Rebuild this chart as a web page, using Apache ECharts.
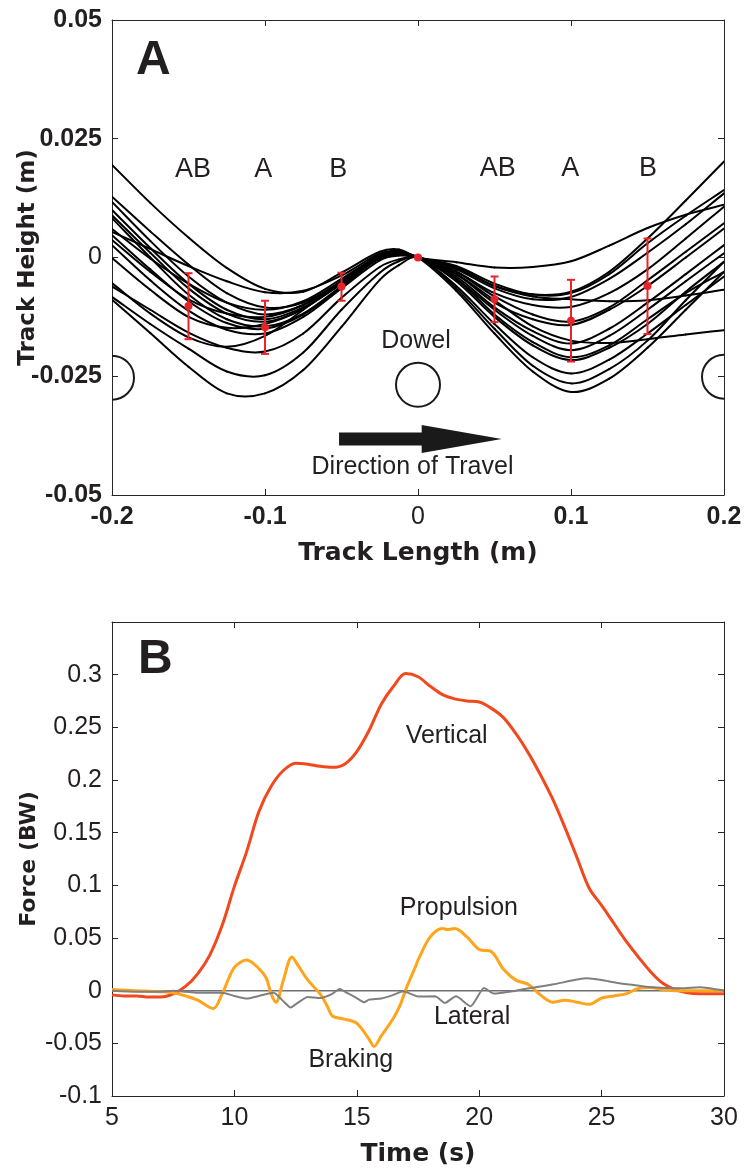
<!DOCTYPE html>
<html><head><meta charset="utf-8">
<script src="https://cdn.jsdelivr.net/npm/echarts@6/dist/echarts.min.js"></script>
<style>html,body{margin:0;padding:0;background:#fff}#c{width:744px;height:1171px}</style>
</head><body><div id="c"></div>
<script>
// ---------- Panel A data ----------
const trackX = [-0.2, -0.175, -0.15, -0.125, -0.1, -0.075, -0.05, -0.025, -0.0125, 0, 0.025, 0.05, 0.075, 0.1, 0.125, 0.15, 0.175, 0.2];
const tracks = [
  [ 0.0195,  0.0115,  0.0042, -0.0022, -0.0066, -0.0072, -0.0032,  0.0012,  0.0017, 0, -0.0010, -0.0021, -0.0020, -0.0008,  0.0025,  0.0062,  0.0090,  0.0111],
  [ 0.0054,  0.0018, -0.0018, -0.0050, -0.0073, -0.0070, -0.0038,  0.0008,  0.0014, 0, -0.0020, -0.0060, -0.0078, -0.0072, -0.0030,  0.0040,  0.0120,  0.0202],
  [ 0.0128,  0.0055, -0.0015, -0.0075, -0.0105, -0.0095, -0.0050,  0.0006,  0.0013, 0, -0.0018, -0.0055, -0.0078, -0.0075, -0.0035,  0.0030,  0.0088,  0.0142],
  [ 0.0117,  0.0035, -0.0040, -0.0095, -0.0120, -0.0100, -0.0052,  0.0004,  0.0011, 0, -0.0025, -0.0065, -0.0088, -0.0083, -0.0045,  0.0010,  0.0070,  0.0135],
  [ 0.0100,  0.0020, -0.0055, -0.0110, -0.0130, -0.0105, -0.0055,  0.0002,  0.0010, 0, -0.0022, -0.0060, -0.0082, -0.0088, -0.0092, -0.0090, -0.0080, -0.0068],
  [ 0.0089,  0.0010, -0.0065, -0.0118, -0.0135, -0.0108, -0.0050,  0.0004,  0.0011, 0, -0.0030, -0.0075, -0.0100, -0.0104, -0.0075, -0.0025,  0.0040,  0.0107],
  [ 0.0083,  0.0000, -0.0078, -0.0130, -0.0145, -0.0118, -0.0060,  0.0000,  0.0008, 0, -0.0030, -0.0082, -0.0120, -0.0135, -0.0105, -0.0048,  0.0012,  0.0072],
  [ 0.0047, -0.0025, -0.0092, -0.0138, -0.0150, -0.0120, -0.0062, -0.0001,  0.0007, 0, -0.0035, -0.0090, -0.0145, -0.0175, -0.0180, -0.0172, -0.0162, -0.0153],
  [ 0.0037, -0.0030, -0.0088, -0.0118, -0.0125, -0.0100, -0.0050,  0.0003,  0.0009, 0, -0.0035, -0.0095, -0.0130, -0.0142, -0.0110, -0.0060,  0.0000,  0.0061],
  [ 0.0026, -0.0048, -0.0112, -0.0152, -0.0160, -0.0125, -0.0065, -0.0006,  0.0004, 0, -0.0040, -0.0105, -0.0155, -0.0181, -0.0150, -0.0095, -0.0035,  0.0026],
  [-0.0001, -0.0068, -0.0125, -0.0148, -0.0140, -0.0108, -0.0055,  0.0000,  0.0007, 0, -0.0045, -0.0110, -0.0165, -0.0195, -0.0165, -0.0110, -0.0050,  0.0009],
  [-0.0054, -0.0118, -0.0168, -0.0188, -0.0165, -0.0110, -0.0050, -0.0003,  0.0005, 0, -0.0045, -0.0120, -0.0178, -0.0210, -0.0185, -0.0130, -0.0075, -0.0030],
  [-0.0061, -0.0110, -0.0158, -0.0190, -0.0198, -0.0160, -0.0085, -0.0020, -0.0004, 0, -0.0050, -0.0125, -0.0185, -0.0216, -0.0190, -0.0140, -0.0072, -0.0009],
  [-0.0083, -0.0140, -0.0192, -0.0240, -0.0248, -0.0200, -0.0110, -0.0032, -0.0008, 0, -0.0060, -0.0140, -0.0210, -0.0244, -0.0215, -0.0160, -0.0100, -0.0040],
  [-0.0089, -0.0159, -0.0230, -0.0286, -0.0286, -0.0237, -0.0146, -0.0047, -0.0016, 0, -0.0065, -0.0150, -0.0228, -0.0265, -0.0235, -0.0175, -0.0090, -0.0009],
  [ 0.0060, -0.0002, -0.0055, -0.0095, -0.0110, -0.0092, -0.0045,  0.0004,  0.0010, 0, -0.0070, -0.0160, -0.0240, -0.0283, -0.0255, -0.0190, -0.0110, -0.0030]
];
const barX    = [-0.15,   -0.1,    -0.05,   0.05,    0.1,     0.15];
const barMean = [-0.0102, -0.0147, -0.0061, -0.0088, -0.0133, -0.0060];
const barLow  = [-0.0172, -0.0203, -0.0091, -0.0136, -0.0219, -0.0161];
const barHigh = [-0.0033, -0.0091, -0.0032, -0.0040, -0.0047,  0.0040];
const originPoint = [0, 0];
const dowels = [[-0.2, -0.0253], [0, -0.0268], [0.2, -0.0251]];
const travelArrow = [-0.0516, -0.0382, 0.0547, -0.0382];
const notesA = [
  ['AB', -0.147, 0.0185], ['A', -0.1012, 0.0185], ['B', -0.0521, 0.0185],
  ['AB', 0.0521, 0.0187], ['A', 0.0995, 0.0187], ['B', 0.1503, 0.0187]
];
const notesA2 = [['Dowel', -0.0013, -0.0175], ['Direction of Travel', -0.0036, -0.0442]];

// ---------- Panel B data ----------
const timeV = [5,5.5,6,6.5,7,7.5,8,8.5,9,9.5,10,10.5,11,11.5,12,12.5,13,13.5,14,14.5,15,15.5,16,16.5,17,17.5,18,18.5,19,19.5,20,20.5,21,21.5,22,22.5,23,23.5,24,24.5,25,25.5,26,26.5,27,27.5,28,28.5,29,29.5,30];
const vertical = [-0.004,-0.005,-0.005,-0.006,-0.006,-0.003,0.004,0.016,0.034,0.062,0.099,0.132,0.170,0.194,0.209,0.216,0.215,0.213,0.212,0.215,0.227,0.247,0.272,0.289,0.301,0.298,0.289,0.281,0.277,0.275,0.274,0.268,0.259,0.244,0.226,0.205,0.182,0.155,0.126,0.097,0.081,0.064,0.047,0.032,0.018,0.007,0.001,-0.002,-0.003,-0.003,-0.003];
const timeP = [5,6,7,7.5,8,8.5,9,9.15,9.5,10,10.5,11,11.3,11.5,11.7,12,12.35,12.6,13,13.5,13.8,14,14.5,15,15.5,15.7,16,16.5,16.8,17,17.4,17.5,18,18.5,18.7,19,19.5,20,20.5,21,21.5,22,22.5,23,23.5,24,24.5,25,25.5,26,26.5,27,27.5,28,29,30];
const propulsion = [0.001,0.000,-0.001,-0.002,-0.005,-0.009,-0.016,-0.017,-0.003,0.022,0.029,0.021,0.012,-0.003,-0.011,0.010,0.032,0.024,0.010,-0.003,-0.015,-0.024,-0.027,-0.031,-0.046,-0.053,-0.043,-0.026,-0.012,0.001,0.023,0.029,0.051,0.059,0.058,0.059,0.051,0.039,0.037,0.020,0.010,0.006,-0.004,-0.011,-0.009,-0.011,-0.013,-0.007,-0.005,-0.003,0.002,0.003,0.001,0.000,0.000,0.000];
const timeL = [5,6,7,7.5,8,8.5,9,9.5,10,10.5,11,11.6,12,12.3,12.5,13,13.5,14,14.3,14.6,15,15.3,15.5,16,16.5,16.9,17.2,17.5,18.2,18.6,19.05,19.65,20.2,20.6,21.5,22.3,23.1,24.4,25.0,25.6,26.3,27.0,28.3,29.0,30];
const lateral = [0,-0.001,-0.001,0,-0.001,-0.002,-0.002,-0.002,-0.005,-0.0075,-0.005,-0.002,-0.010,-0.016,-0.013,-0.006,-0.007,-0.003,0.0016,-0.002,-0.007,-0.011,-0.0085,-0.0075,-0.004,-0.0006,-0.003,-0.0055,-0.0054,-0.0117,-0.0054,-0.0148,0.0025,-0.0028,0.0,0.0032,0.0063,0.0117,0.0101,0.0076,0.0054,0.0032,0.0022,0.0032,0.0];
const notesB = [['Vertical', 18.67, 0.2419], ['Propulsion', 19.17, 0.0788], ['Lateral', 19.71, -0.0255], ['Braking', 14.755, -0.0658]];

// ---------- styles ----------
const RED = '#E8242B', VRED = '#F2481D', ORANGE = '#FFA41B', GRAY = '#7F7F7F';
const TXT = '#231F20', AX = '#262626';
const SANS = '"Liberation Sans", Arial, Helvetica, sans-serif';
const TITLE = '"DejaVu Sans", Verdana, sans-serif';
const fmt = v => String(parseFloat(v.toFixed(4)));

function mainAxis(grid, min, max, interval, pos, labelFmt, rich, name, nameGap, nameSize) {
  return {
    type: 'value', gridIndex: grid, min, max, interval, position: pos,
    axisLine: { show: true, onZero: false, lineStyle: { color: AX, width: 1 } },
    axisTick: { show: true, inside: true, length: 6, lineStyle: { color: AX, width: 1 } },
    splitLine: { show: false },
    axisLabel: { show: true, margin: 10, formatter: labelFmt, rich, color: TXT, fontSize: 25, fontFamily: SANS },
    name, nameLocation: 'middle', nameGap, nameMoveOverlap: false,
    nameTextStyle: { fontFamily: TITLE, fontWeight: 'bold', fontSize: nameSize, color: TXT }
  };
}
function boxAxis(grid, min, max, interval, pos) {
  return {
    type: 'value', gridIndex: grid, min, max, interval, position: pos,
    axisLine: { show: true, onZero: false, lineStyle: { color: AX, width: 1 } },
    axisTick: { show: true, inside: true, length: 6, lineStyle: { color: AX, width: 1 } },
    splitLine: { show: false }, axisLabel: { show: false }
  };
}
const richA = {
  b: { fontFamily: SANS, fontWeight: 'bold', fontSize: 25, color: TXT },
  r: { fontFamily: SANS, fontWeight: 'normal', fontSize: 25, color: TXT }
};
const fmtA = v => { const s = fmt(v); return s === '0' ? '{r|0}' : '{b|' + s + '}'; };
const fmtB = v => v > 0.33 ? '' : fmt(v);

const textSeries = (notes, xi, yi, size) => ({
  type: 'custom', xAxisIndex: xi, yAxisIndex: yi, z: 10, silent: true,
  data: notes.map(n => [n[1], n[2]]),
  renderItem: (p, api) => {
    const c = api.coord([api.value(0), api.value(1)]);
    return { type: 'text', x: c[0], y: c[1],
      style: { text: notes[p.dataIndex][0], fill: TXT, font: 'normal ' + size + 'px ' + SANS, textAlign: 'center', textVerticalAlign: 'middle' } };
  }
});

const series = [];
// Track profiles: points mapped through the axes, joined by a smooth (Hermite) curve
series.push({
  type: 'custom', xAxisIndex: 0, yAxisIndex: 0, z: 2, silent: true, clip: true,
  data: tracks.map((tr, i) => [trackX[0], tr[0], i]),
  renderItem: (p, api) => {
    const tr = tracks[p.dataIndex];
    const P = trackX.map((x, j) => api.coord([x, tr[j]]));
    const n = P.length;
    const slope = j => {
      const a = P[Math.max(j - 1, 0)], b = P[Math.min(j + 1, n - 1)];
      return (b[1] - a[1]) / (b[0] - a[0]);
    };
    const children = [];
    for (let j = 0; j < n - 1; j++) {
      const p1 = P[j], p2 = P[j + 1], d = (p2[0] - p1[0]) / 3;
      children.push({
        type: 'bezierCurve',
        shape: { x1: p1[0], y1: p1[1], x2: p2[0], y2: p2[1],
          cpx1: p1[0] + d, cpy1: p1[1] + slope(j) * d, cpx2: p2[0] - d, cpy2: p2[1] - slope(j + 1) * d },
        style: { stroke: '#000', lineWidth: 2, fill: null, lineCap: 'round' }
      });
    }
    return { type: 'group', children };
  }
});
series.push({
  type: 'custom', xAxisIndex: 0, yAxisIndex: 0, z: 5, silent: true,
  data: barX.map((x, i) => [x, barLow[i], barHigh[i]]),
  renderItem: (p, api) => {
    const x = api.value(0);
    const lo = api.coord([x, api.value(1)]), hi = api.coord([x, api.value(2)]);
    const w = 4, st = { stroke: RED, lineWidth: 2 };
    return { type: 'group', children: [
      { type: 'line', shape: { x1: lo[0], y1: lo[1], x2: hi[0], y2: hi[1] }, style: st },
      { type: 'line', shape: { x1: lo[0] - w, y1: lo[1], x2: lo[0] + w, y2: lo[1] }, style: st },
      { type: 'line', shape: { x1: hi[0] - w, y1: hi[1], x2: hi[0] + w, y2: hi[1] }, style: st }
    ] };
  }
});
series.push({
  type: 'scatter', xAxisIndex: 0, yAxisIndex: 0, z: 6, silent: true, symbolSize: 8,
  itemStyle: { color: RED, opacity: 1 },
  data: barX.map((x, i) => [x, barMean[i]]).concat([originPoint])
});
series.push({
  type: 'custom', xAxisIndex: 0, yAxisIndex: 0, z: 3, silent: true, clip: true,
  data: dowels,
  renderItem: (p, api) => {
    const c = api.coord([api.value(0), api.value(1)]);
    return { type: 'circle', shape: { cx: c[0], cy: c[1], r: 22 }, style: { fill: 'none', stroke: '#1a1a1a', lineWidth: 2 } };
  }
});
series.push({
  type: 'custom', xAxisIndex: 0, yAxisIndex: 0, z: 3, silent: true,
  data: [travelArrow],
  renderItem: (p, api) => {
    const a = api.coord([api.value(0), api.value(1)]), b = api.coord([api.value(2), api.value(3)]);
    const hx = b[0] - 80, bh = 6.5, hh = 14;
    return { type: 'polygon', shape: { points: [[a[0], a[1] - bh], [hx, a[1] - bh], [hx, a[1] - hh], [b[0], b[1]], [hx, a[1] + hh], [hx, a[1] + bh], [a[0], a[1] + bh]] },
      style: { fill: '#1a1a1a' } };
  }
});
series.push(textSeries(notesA, 0, 0, 27));
series.push(textSeries(notesA2, 0, 0, 25));

series.push({
  type: 'line', xAxisIndex: 2, yAxisIndex: 2, silent: true, symbol: 'none', z: 2,
  data: [[5, 0], [30, 0]], lineStyle: { color: '#6f6f6f', width: 1.5 }
});
series.push({
  type: 'line', xAxisIndex: 2, yAxisIndex: 2, smooth: 0.33, symbol: 'none', silent: true, z: 3,
  data: timeV.map((t, i) => [t, vertical[i]]), lineStyle: { color: VRED, width: 3 }
});
series.push({
  type: 'line', xAxisIndex: 2, yAxisIndex: 2, smooth: 0.33, symbol: 'none', silent: true, z: 4,
  data: timeP.map((t, i) => [t, propulsion[i]]), lineStyle: { color: ORANGE, width: 3 }
});
series.push({
  type: 'line', xAxisIndex: 2, yAxisIndex: 2, smooth: 0.2, symbol: 'none', silent: true, z: 5,
  data: timeL.map((t, i) => [t, lateral[i]]), lineStyle: { color: GRAY, width: 2 }
});
series.push(textSeries(notesB, 2, 2, 25));

const option = {
  animation: false,
  backgroundColor: '#fff',
  grid: [
    { left: 112, right: 20, top: 20, height: 475, outerBoundsMode: 'none' },
    { left: 112, right: 20, top: 622, height: 474, outerBoundsMode: 'none' }
  ],
  xAxis: [
    mainAxis(0, -0.2, 0.2, 0.1, 'bottom', fmtA, richA, 'Track Length (m)', 46, 25),
    boxAxis(0, -0.2, 0.2, 0.1, 'top'),
    mainAxis(1, 5, 30, 5, 'bottom', fmt, undefined, 'Time (s)', 46, 25),
    boxAxis(1, 5, 30, 5, 'top')
  ],
  yAxis: [
    mainAxis(0, -0.05, 0.05, 0.025, 'left', fmtA, richA, 'Track Height (m)', 72, 23),
    boxAxis(0, -0.05, 0.05, 0.025, 'right'),
    mainAxis(1, -0.1, 0.35, 0.05, 'left', fmtB, undefined, 'Force (BW)', 72, 22),
    boxAxis(1, -0.1, 0.35, 0.05, 'right')
  ],
  graphic: [
    { type: 'text', left: 136, top: 37, style: { text: 'A', font: 'bold 48px ' + SANS, fill: TXT } },
    { type: 'text', left: 138, top: 636, style: { text: 'B', font: 'bold 48px ' + SANS, fill: TXT } }
  ],
  series
};
const chart = echarts.init(document.getElementById('c'), null, { renderer: 'canvas' });
chart.setOption(option);
</script>
</body></html>
